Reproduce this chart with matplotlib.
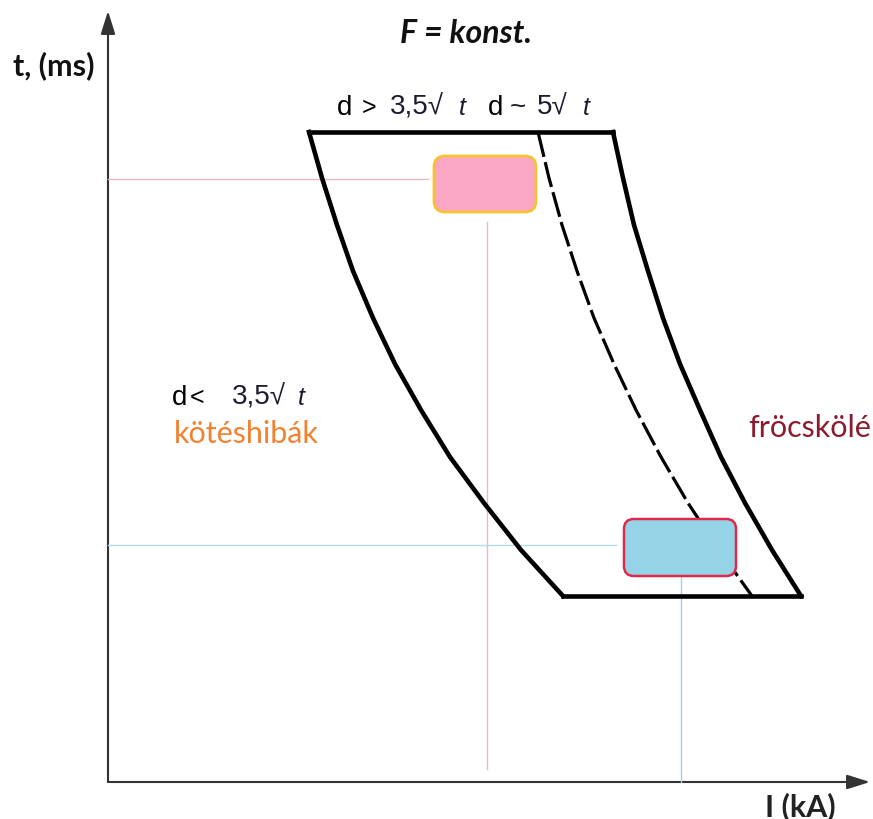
import matplotlib
matplotlib.use("Agg")
import matplotlib.pyplot as plt
from matplotlib.patches import FancyBboxPatch, FancyArrowPatch

# ---- schematic data (I, t) in arbitrary units ----
lobe_t  = [650, 604, 557, 511, 464, 418, 372, 325, 279, 232, 186]
left_I  = [201, 214, 229, 245, 265, 287, 313, 342, 376, 413, 455]
right_I = [505, 515, 526, 540, 555, 572, 592, 613, 637, 664, 693]
dash_I  = [430, 441, 454, 469, 486, 506, 528, 553, 580, 611, 644]
top_I = [201, 505]; top_t = [650, 650]
bot_I = [455, 693]; bot_t = [186, 186]

pink_box = (326, 570, 102, 56)   # I0, t0, width, height
blue_box = (516, 206, 112, 57)
pink_point = (379, 603)
blue_point = (573, 237)

fig = plt.figure(figsize=(8.73, 8.20), dpi=100)
ax = fig.add_axes([0, 0, 1, 1])
ax.set_xlim(-108, 765)
ax.set_ylim(-37, 783)
ax.axis("off")

# guide lines
ax.plot([0, pink_box[0] - 6], [pink_point[1]] * 2, color="#e6b8c9", lw=1.0)
ax.plot([pink_point[0]] * 2, [13, pink_box[1] - 10], color="#e6b8c9", lw=1.0)
ax.plot([0, blue_box[0] - 8], [blue_point[1]] * 2, color="#b0dcec", lw=1.0)
ax.plot([blue_point[0]] * 2, [0, blue_box[1]], color="#a0d2e8", lw=1.0)

# lobe
kw = dict(color="black", lw=3.3, solid_capstyle="projecting", solid_joinstyle="round")
ax.plot(left_I, lobe_t, **kw)
ax.plot(right_I, lobe_t, **kw)
ax.plot(top_I, top_t, **kw)
ax.plot(bot_I, bot_t, **kw)
ax.plot(dash_I, lobe_t, color="black", lw=2.3, linestyle=(0, (8, 1.7)))

# boxes
ax.add_patch(FancyBboxPatch((pink_box[0], pink_box[1]), pink_box[2], pink_box[3],
                            boxstyle="round,pad=0,rounding_size=11",
                            fc="#f9a7c5", ec="#f4c232", lw=2.0, zorder=5))
ax.add_patch(FancyBboxPatch((blue_box[0], blue_box[1]), blue_box[2], blue_box[3],
                            boxstyle="round,pad=0,rounding_size=10",
                            fc="#95d4e7", ec="#e0284a", lw=1.8, zorder=5))

# axes arrows
for end in [(0, 771), (762, 0)]:
    ax.add_patch(FancyArrowPatch((0, 0), end, arrowstyle="-|>,head_length=7,head_width=2.2",
                                 color="#333333", lw=1.5, mutation_scale=2,
                                 shrinkA=0, shrinkB=0))

# axis titles
ax.text(-54, 717, "t, (ms)", fontsize=22, fontweight="bold", family="Lato",
        ha="center", va="center", color="#111111")
ax.text(358, 740, "F = konst.", fontsize=23, fontweight="bold", style="italic",
        family="Lato", ha="center", va="baseline", color="#111111")
ax.text(692, -33, "I (kA)", fontsize=22, fontweight="bold", family="Lato",
        ha="center", va="baseline", color="#222222")

sans = "Liberation Sans"
blk = "black"
nav = "#1c1c30"
def put(I, t, s, size, color, italic=False):
    ax.text(I, t, s, fontsize=size, family=sans, ha="left", va="baseline",
            color=color, style="italic" if italic else "normal")

# row 1
put(229, 668, "d", 20, blk)
put(254, 668, ">", 18, blk)
put(282, 668, "3,5\u221a", 20, nav)
put(351, 668, "t", 18, nav, True)
put(380, 668, "d", 20, blk)
put(402, 668, "~", 20, nav)
put(429, 668, "5\u221a", 20, nav)
put(475, 668, "t", 18, nav, True)
# row 2
put(64, 378, "d", 20, blk)
put(82, 378, "<", 18, blk)
put(124, 378, "3,5\u221a", 20, nav)
put(190, 378, "t", 18, nav, True)

ax.text(66, 340, "kötéshibák", fontsize=22, family="Lato", ha="left", va="baseline",
        color="#f08232")
ax.text(640, 346, "fröcskölé", fontsize=22, family="Lato", ha="left", va="baseline",
        color="#8b1c2e")

fig.savefig("out.png", dpi=100)
